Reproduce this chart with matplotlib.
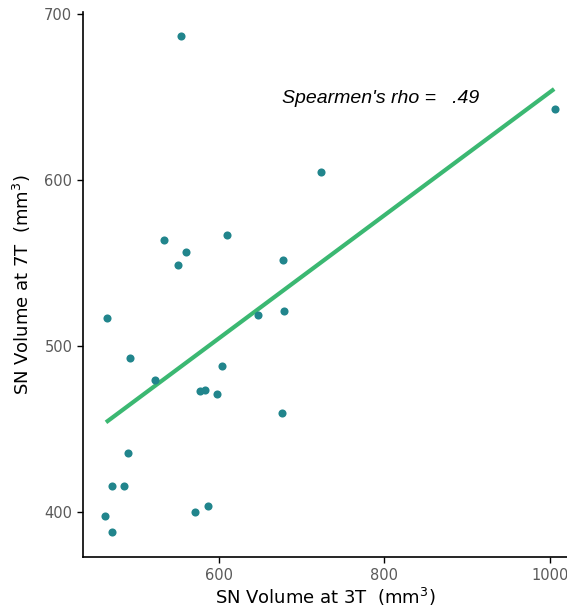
import matplotlib
matplotlib.use("Agg")
import matplotlib.pyplot as plt
import numpy as np

vol_3t = [554, 1006, 724, 534, 561, 551, 610, 678,
          465, 647, 679, 493, 523, 604, 578, 583, 598, 676,
          491, 471, 486, 587, 572, 463, 471]
vol_7t = [687, 643, 605, 564, 557, 549, 567, 552,
          517, 519, 521, 493, 480, 488, 473, 474, 471, 460,
          436, 416, 416, 404, 400, 398, 388]

# fitted line (slope, intercept) and its x range
fit_coef = [0.371, 282.1]
fit_range = [464, 1005]
rho_label = "Spearmen's rho =   .49"

POINT = "#21858C"
LINE = "#3BB872"

fig = plt.figure(figsize=(5.67, 6.11), dpi=100)
ax = fig.add_axes([0.146, 0.088, 0.854, 0.892])

ax.scatter(vol_3t, vol_7t, s=34, color=POINT, zorder=3, linewidths=0)
fx = np.array(fit_range, dtype=float)
ax.plot(fx, fit_coef[0] * fx + fit_coef[1], color=LINE, lw=3.0, zorder=2,
        solid_capstyle="butt")

ax.text(677, 649, rho_label, fontstyle="italic", fontsize=14,
        family="Liberation Sans", va="center", ha="left")

ax.set_xlim(436, 1020.5)
ax.set_ylim(373, 701.2)
ax.set_xticks([600, 800, 1000])
ax.set_yticks([400, 500, 600, 700])

for side in ["top", "right"]:
    ax.spines[side].set_visible(False)
for side in ["left", "bottom"]:
    ax.spines[side].set_linewidth(1.2)
ax.tick_params(length=4, width=1.0, colors="black", labelcolor="#5a5a5a",
               labelsize=10.5)

ax.set_xlabel("SN Volume at 3T  (mm$^3$)", fontsize=13, labelpad=2)
ax.set_ylabel("SN Volume at 7T  (mm$^3$)", fontsize=13, labelpad=8)

fig.savefig("out.png", dpi=100)
